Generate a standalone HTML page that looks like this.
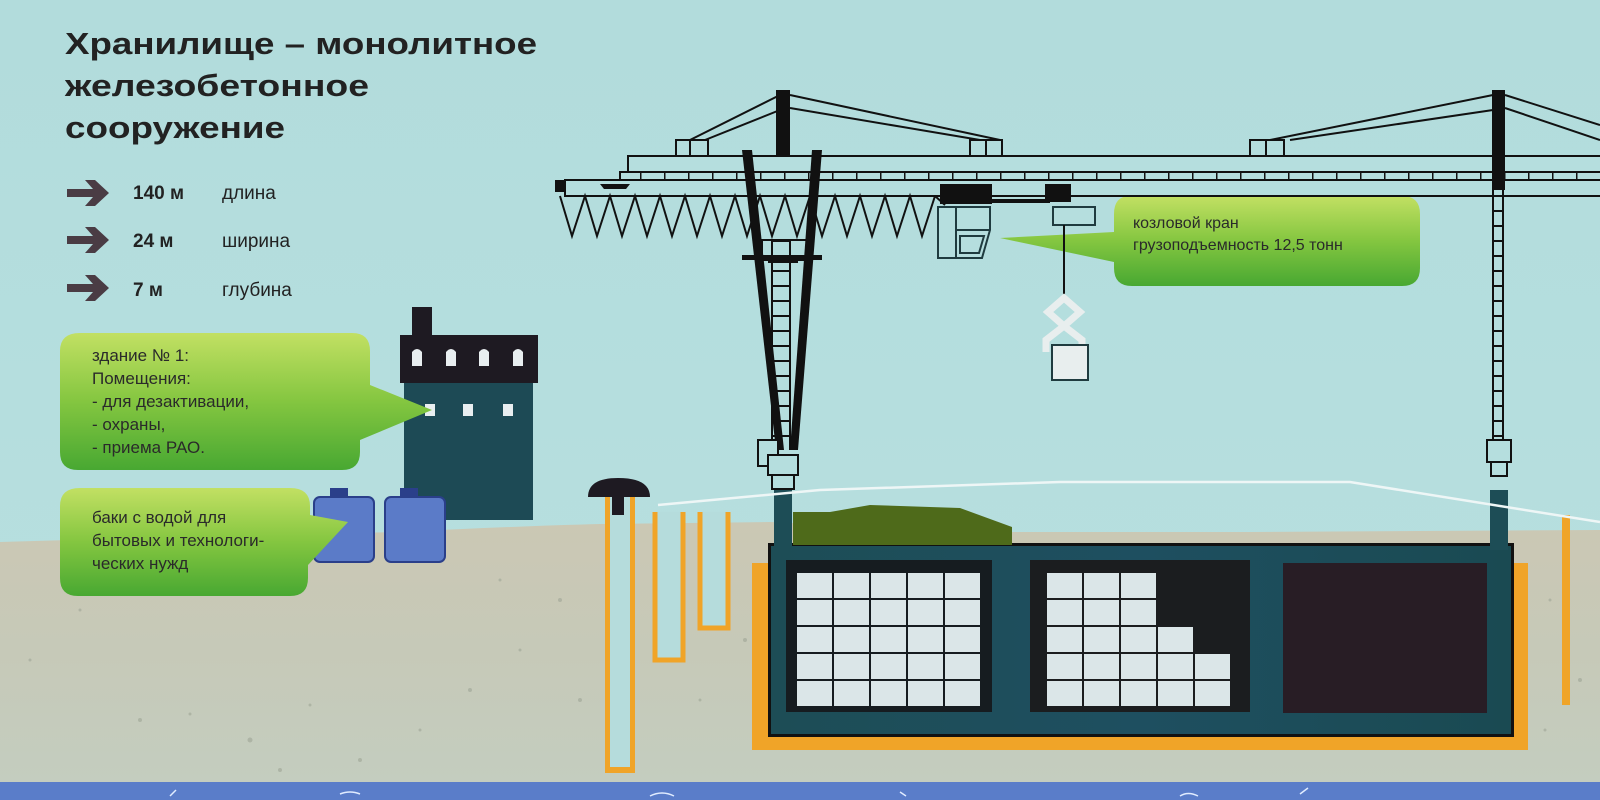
<!DOCTYPE html>
<html><head><meta charset="utf-8"><style>
html,body{margin:0;padding:0;width:1600px;height:800px;overflow:hidden;background:#b5dede;}
svg{display:block}
text{font-family:"Liberation Sans",sans-serif;}
</style></head><body>
<svg width="1600" height="800" viewBox="0 0 1600 800" xmlns="http://www.w3.org/2000/svg">
<defs>
<linearGradient id="sky" x1="0" y1="0" x2="0" y2="1"><stop offset="0" stop-color="#b2dcdc"/><stop offset="1" stop-color="#b8e0e0"/></linearGradient>
<linearGradient id="gnd" x1="0" y1="0" x2="0" y2="1"><stop offset="0" stop-color="#cbc8b4"/><stop offset="0.5" stop-color="#c6c9b8"/><stop offset="1" stop-color="#c4cdbf"/></linearGradient>
<linearGradient id="bub" x1="0" y1="0" x2="0" y2="1"><stop offset="0" stop-color="#c2e063"/><stop offset="0.5" stop-color="#84c640"/><stop offset="1" stop-color="#48a832"/></linearGradient>
<linearGradient id="box" x1="0" y1="0" x2="1" y2="0"><stop offset="0" stop-color="#1d4d56"/><stop offset="0.5" stop-color="#1e4f60"/><stop offset="1" stop-color="#1a4a52"/></linearGradient>
<pattern id="ticks" x="640" y="0" width="24" height="10" patternUnits="userSpaceOnUse"><rect x="0" y="0" width="1.5" height="10" fill="#111"/></pattern>
<pattern id="rungs" x="0" y="240" width="10" height="15" patternUnits="userSpaceOnUse"><rect x="0" y="0" width="10" height="2" fill="#111"/></pattern>
</defs>
<rect width="1600" height="800" fill="url(#sky)"/>
<path d="M0 542 Q200 536 400 532 Q520 526 600 524 L770 522 L1000 532 L1250 532 L1600 530 L1600 782 L0 782 Z" fill="url(#gnd)"/>
<g fill="#9ea596" opacity="0.6">
<circle cx="140" cy="720" r="2"/><circle cx="190" cy="714" r="1.5"/><circle cx="250" cy="740" r="2.5"/><circle cx="280" cy="770" r="2"/><circle cx="310" cy="705" r="1.5"/><circle cx="360" cy="760" r="2"/><circle cx="420" cy="730" r="1.5"/><circle cx="470" cy="690" r="2"/><circle cx="520" cy="650" r="1.5"/><circle cx="560" cy="600" r="2"/><circle cx="500" cy="580" r="1.5"/><circle cx="580" cy="700" r="2"/><circle cx="30" cy="660" r="1.5"/><circle cx="80" cy="610" r="1.5"/><circle cx="745" cy="640" r="2"/><circle cx="700" cy="700" r="1.5"/><circle cx="1550" cy="600" r="1.5"/><circle cx="1580" cy="680" r="2"/><circle cx="1545" cy="730" r="1.5"/>
</g>
<rect x="0" y="782" width="1600" height="18" fill="#5a7dc9"/>
<path d="M170 796 l6 -6 M340 794 q10 -4 20 0 M650 796 q12 -6 24 0 M900 792 l6 4 M1180 796 q8 -5 18 0 M1300 794 l8 -6" stroke="#e0ecff" stroke-width="1.5" fill="none"/>

<g fill="#222" font-weight="bold" font-size="31">
<text x="65" y="54" textLength="472" lengthAdjust="spacingAndGlyphs">Хранилище – монолитное</text>
<text x="65" y="96" textLength="304" lengthAdjust="spacingAndGlyphs">железобетонное</text>
<text x="65" y="138" textLength="220" lengthAdjust="spacingAndGlyphs">сооружение</text>
</g>
<g fill="#4a3c44">
<path d="M67 189 h26 l-8 -9 h10 l14 13 l-14 13 h-10 l8 -9 h-26z"/>
<path d="M67 236 h26 l-8 -9 h10 l14 13 l-14 13 h-10 l8 -9 h-26z"/>
<path d="M67 284 h26 l-8 -9 h10 l14 13 l-14 13 h-10 l8 -9 h-26z"/>
</g>
<g font-size="19" fill="#222">
<text x="133" y="199" font-weight="bold">140 м</text><text x="222" y="199">длина</text>
<text x="133" y="247" font-weight="bold">24 м</text><text x="222" y="247">ширина</text>
<text x="133" y="296" font-weight="bold">7 м</text><text x="222" y="296">глубина</text>
</g>

<rect x="412" y="307" width="20" height="30" fill="#1e1a22"/>
<rect x="400" y="335" width="138" height="48" fill="#1e1a22"/>
<rect x="404" y="383" width="129" height="137" fill="#1d4a55"/>
<g fill="#e8eef0">
<path d="M412 366 v-14 q5 -6 10 0 v14z"/><path d="M446 366 v-14 q5 -6 10 0 v14z"/><path d="M479 366 v-14 q5 -6 10 0 v14z"/><path d="M513 366 v-14 q5 -6 10 0 v14z"/>
<rect x="425" y="404" width="10" height="12"/><rect x="463" y="404" width="10" height="12"/><rect x="503" y="404" width="10" height="12"/>
</g>
<g fill="#5b7bc8" stroke="#2a3f8a" stroke-width="2">
<rect x="314" y="497" width="60" height="65" rx="6"/>
<rect x="385" y="497" width="60" height="65" rx="6"/>
</g>
<rect x="330" y="488" width="18" height="9" fill="#2a3f8a"/><rect x="400" y="488" width="18" height="9" fill="#2a3f8a"/>

<path d="M80 333 H352 Q370 333 370 351 V385 L432 410 L360 440 V452 Q360 470 342 470 H78 Q60 470 60 452 V351 Q60 333 80 333Z" fill="url(#bub)"/>
<g font-size="17" fill="#2a2a2a">
<text x="92" y="361">здание № 1:</text><text x="92" y="384">Помещения:</text><text x="92" y="407">- для дезактивации,</text><text x="92" y="430">- охраны,</text><text x="92" y="453">- приема РАО.</text>
</g>
<path d="M80 488 H290 Q310 488 310 506 V515 L348 522 L308 565 V578 Q308 596 290 596 H78 Q60 596 60 578 V506 Q60 488 80 488Z" fill="url(#bub)"/>
<g font-size="17" fill="#2a2a2a">
<text x="92" y="523">баки с водой для</text><text x="92" y="546">бытовых и технологи-</text><text x="92" y="569">ческих нужд</text>
</g>
<path d="M1130 196 H1402 Q1420 196 1420 214 V268 Q1420 286 1402 286 H1132 Q1114 286 1114 268 V262 L1000 238 L1114 232 V214 Q1114 196 1130 196Z" fill="url(#bub)"/>
<g font-size="16" fill="#2a2a2a">
<text x="1133" y="228">козловой кран</text><text x="1133" y="250">грузоподъемность 12,5 тонн</text>
</g>

<g stroke="#111" fill="none" stroke-width="2">
<path d="M690 140 L780 95 M705 140 L780 110 M790 95 L1000 140 M790 108 L980 140"/>
<path d="M1270 140 L1493 95 M1290 140 L1493 110 M1505 95 L1600 125 M1505 108 L1600 140"/>
<path d="M676 140 h32 v16 h-32z M690 140 v16"/>
<path d="M970 140 h32 v16 h-32z M986 140 v16"/>
<path d="M1250 140 h34 v16 h-34z M1266 140 v16"/>
<rect x="628" y="156" width="980" height="16" fill="#b5dede"/>
<rect x="620" y="172" width="990" height="8" fill="#b5dede"/>
<rect x="565" y="180" width="1045" height="16" fill="#b5dede"/>
<polyline points="560,196 572,236 585,196 597,236 610,196 622,236 635,196 647,236 660,196 672,236 685,196 697,236 710,196 722,236 735,196 747,236 760,196 772,236 785,196 797,236 810,196 822,236 835,196 847,236 860,196 872,236 885,196 897,236 910,196 922,236 935,196"/>
<path d="M935 196 L945 205"/>
<path d="M772 240 V450 M790 240 V450 M768 262 h30 M762 240 h45 v20 h-45z"/>
</g>
<rect x="640" y="172" width="960" height="8" fill="url(#ticks)"/>
<rect x="773" y="240" width="16" height="205" fill="url(#rungs)"/>
<rect x="555" y="180" width="10" height="12" fill="#111"/>
<path d="M600 184 h30 l-4 5 h-22z" fill="#111"/>
<g fill="#111">
<rect x="776" y="90" width="14" height="66"/>
<rect x="1492" y="90" width="13" height="100"/>
<polygon points="742,150 752,150 784,450 776,450"/>
<polygon points="812,150 822,150 798,450 790,450"/>
<rect x="742" y="255" width="80" height="5"/>
</g>
<g stroke="#111" stroke-width="2" fill="#b5dede">
<rect x="758" y="440" width="20" height="26"/>
<rect x="768" y="455" width="30" height="20"/>
<rect x="772" y="475" width="22" height="14"/>
<rect x="1487" y="440" width="24" height="22"/>
<rect x="1491" y="462" width="16" height="14"/>
</g>
<g stroke="#111" stroke-width="2" fill="none"><path d="M1493 190 V440 M1503 190 V440"/></g>
<rect x="1494" y="190" width="8" height="250" fill="url(#rungs)"/>
<rect x="940" y="184" width="52" height="20" fill="#111"/>
<rect x="1045" y="184" width="26" height="18" fill="#111"/>
<rect x="990" y="199" width="60" height="4" fill="#111"/>
<g stroke="#1f3b3f" stroke-width="2" fill="#b5dede">
<rect x="1053" y="207" width="42" height="18"/>
<path d="M938 207 h52 v23 l-8 28 h-44z M956 207 v51 M956 230 h34 M960 236 h24 l-5 17 h-19z"/>
</g>
<rect x="1063" y="225" width="2" height="75" fill="#111"/>
<g stroke="#1f3b3f" stroke-width="2" fill="#e8eeee">
<path d="M1064 298 L1080 312 L1064 326 L1048 312Z" fill="none" stroke="#e8eeee" stroke-width="7"/>
<path d="M1064 326 L1082 340 L1082 352 M1064 326 L1046 340 L1046 352" fill="none" stroke="#e8eeee" stroke-width="7"/>
<rect x="1052" y="345" width="36" height="35"/>
</g>

<rect x="752" y="563" width="776" height="187" fill="#f0a428"/>
<rect x="768" y="543" width="746" height="194" fill="#111"/>
<rect x="771" y="546" width="740" height="188" fill="url(#box)"/>
<rect x="774" y="490" width="18" height="60" fill="#1d4d56"/>
<rect x="1490" y="490" width="18" height="60" fill="#1d4d56"/>
<path d="M793 545 L793 512 L830 512 L870 505 L960 508 L1012 527 L1012 545Z" fill="#4e6a1a"/>
<rect x="786" y="560" width="206" height="152" fill="#161c20"/>
<rect x="1030" y="560" width="220" height="152" fill="#1b1d1f"/>
<rect x="1283" y="563" width="204" height="150" fill="#281d25"/>
<g fill="#dbe6e8">
<rect x="797" y="573" width="35" height="25"/><rect x="834" y="573" width="35" height="25"/><rect x="871" y="573" width="35" height="25"/><rect x="908" y="573" width="35" height="25"/><rect x="945" y="573" width="35" height="25"/>
<rect x="797" y="600" width="35" height="25"/><rect x="834" y="600" width="35" height="25"/><rect x="871" y="600" width="35" height="25"/><rect x="908" y="600" width="35" height="25"/><rect x="945" y="600" width="35" height="25"/>
<rect x="797" y="627" width="35" height="25"/><rect x="834" y="627" width="35" height="25"/><rect x="871" y="627" width="35" height="25"/><rect x="908" y="627" width="35" height="25"/><rect x="945" y="627" width="35" height="25"/>
<rect x="797" y="654" width="35" height="25"/><rect x="834" y="654" width="35" height="25"/><rect x="871" y="654" width="35" height="25"/><rect x="908" y="654" width="35" height="25"/><rect x="945" y="654" width="35" height="25"/>
<rect x="797" y="681" width="35" height="25"/><rect x="834" y="681" width="35" height="25"/><rect x="871" y="681" width="35" height="25"/><rect x="908" y="681" width="35" height="25"/><rect x="945" y="681" width="35" height="25"/>
<rect x="1047" y="573" width="35" height="25"/><rect x="1084" y="573" width="35" height="25"/><rect x="1121" y="573" width="35" height="25"/>
<rect x="1047" y="600" width="35" height="25"/><rect x="1084" y="600" width="35" height="25"/><rect x="1121" y="600" width="35" height="25"/>
<rect x="1047" y="627" width="35" height="25"/><rect x="1084" y="627" width="35" height="25"/><rect x="1121" y="627" width="35" height="25"/><rect x="1158" y="627" width="35" height="25"/>
<rect x="1047" y="654" width="35" height="25"/><rect x="1084" y="654" width="35" height="25"/><rect x="1121" y="654" width="35" height="25"/><rect x="1158" y="654" width="35" height="25"/><rect x="1195" y="654" width="35" height="25"/>
<rect x="1047" y="681" width="35" height="25"/><rect x="1084" y="681" width="35" height="25"/><rect x="1121" y="681" width="35" height="25"/><rect x="1158" y="681" width="35" height="25"/><rect x="1195" y="681" width="35" height="25"/>
</g>

<rect x="605" y="495" width="30" height="278" fill="#f0a428"/>
<rect x="610" y="495" width="20" height="272" fill="#b5dcdc"/>
<path d="M588 497 Q588 478 618 478 Q650 478 650 497Z" fill="#1e1a22"/>
<rect x="612" y="495" width="12" height="20" fill="#1e1a22"/>
<path d="M655 512 V660 H683 V512" fill="#b5dcdc" stroke="#f0a428" stroke-width="5"/>
<path d="M700 512 V628 H728 V512" fill="#b5dcdc" stroke="#f0a428" stroke-width="5"/>
<rect x="1562" y="515" width="8" height="190" fill="#f0a428"/>
<polyline points="658,505 820,490 1060,482 1350,482 1600,522" fill="none" stroke="#eef6f6" stroke-width="2.5"/>
</svg>
</body></html>
